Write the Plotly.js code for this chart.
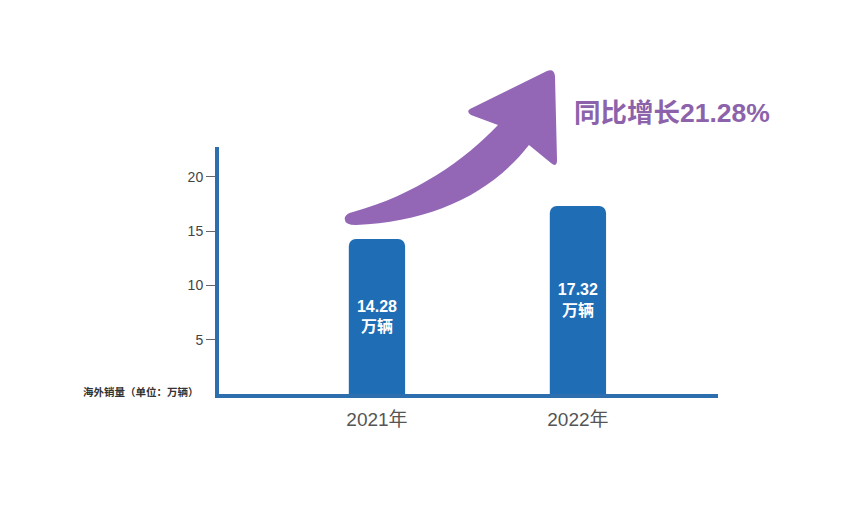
<!DOCTYPE html>
<html>
<head>
<meta charset="utf-8">
<script src="https://cdn.plot.ly/plotly-3.0.1.min.js"></script>
<style>
html,body{margin:0;padding:0;background:#fff;}
#chart{width:852px;height:508px;}
</style>
</head>
<body>
<div id="chart"></div>
<script>
// ---- data ----
var years = ['2021年', '2022年'];
var sales = [14.28, 17.32];          // 海外销量（万辆）
var barLabels = ['14.28<br>万辆', '17.32<br>万辆'];
var yTicks = [5, 10, 15, 20];
var yTickText = ['5', '10', '15', '20'];
var growthText = '同比增长21.28%';
var yTitle = '海外销量（单位：万辆）';

// ---- layout geometry ----
var W = 852, H = 508;
var M = {l: 219, r: 134, t: 147, b: 114};
var PW = W - M.l - M.r, PH = H - M.t - M.b;
function px(x){ return ((x - M.l) / PW).toFixed(4); }
function py(y){ return ((H - M.b - y) / PH).toFixed(4); }
function P(x, y){ return px(x) + ',' + py(y); }

var arrowPath =
  'M' + P(498,125) +
  ' L' + P(471,115) +
  ' Q' + P(465,111) + ' ' + P(472,108) +
  ' L' + P(547,71) +
  ' Q' + P(554,68) + ' ' + P(555,76) +
  ' L' + P(557,160) +
  ' Q' + P(557,168) + ' ' + P(551,163) +
  ' L' + P(529,145) +
  ' C' + P(490,195) + ' ' + P(430,222) + ' ' + P(356,225) +
  ' Q' + P(343,225) + ' ' + P(345,217) +
  ' Q' + P(347,213) + ' ' + P(353,212) +
  ' C' + P(415,195) + ' ' + P(465,160) + ' ' + P(498,125) + ' Z';

var trace = {
  type: 'bar',
  x: years,
  y: sales,
  text: barLabels,
  textposition: 'inside',
  insidetextanchor: 'middle',
  textangle: 0,
  textfont: {family: 'Liberation Sans, Noto Sans CJK SC, sans-serif', size: 16, color: '#ffffff', weight: 'bold'},
  width: 0.28,
  marker: {color: '#1f6db5', cornerradius: 7, line: {width: 0}},
  hoverinfo: 'x+y'
};

var layout = {
  width: W, height: H,
  margin: M,
  paper_bgcolor: '#ffffff',
  plot_bgcolor: '#ffffff',
  showlegend: false,
  font: {family: 'Liberation Sans, Noto Sans CJK SC, sans-serif', color: '#555'},
  xaxis: {
    type: 'category',
    range: [-0.786, 1.697],
    showline: true, linecolor: '#2d6fae', linewidth: 4,
    showgrid: false, zeroline: false,
    ticks: '',
    tickfont: {size: 19, color: '#555555', family: 'Liberation Sans, Noto Sans CJK SC, sans-serif'},
    ticklabelstandoff: 5,
    fixedrange: true
  },
  yaxis: {
    range: [0, 22.76],
    showline: true, linecolor: '#2d6fae', linewidth: 4,
    showgrid: false, zeroline: false,
    tickmode: 'array', tickvals: yTicks, ticktext: yTickText,
    ticks: 'outside', ticklen: 9, tickwidth: 1, tickcolor: '#666666',
    tickfont: {size: 14, color: '#444444', family: 'Liberation Sans, sans-serif'},
    fixedrange: true
  },
  shapes: [{
    type: 'path', xref: 'paper', yref: 'paper',
    path: arrowPath,
    fillcolor: '#9466b6',
    line: {width: 0}
  }],
  annotations: [
    {
      xref: 'paper', yref: 'paper',
      x: px(572), y: py(113), xanchor: 'left', yanchor: 'middle',
      text: '<b>' + growthText + '</b>', showarrow: false,
      font: {size: 26.5, color: '#8c63ab', family: 'Liberation Sans, Noto Sans CJK SC, sans-serif'}
    },
    {
      xref: 'paper', yref: 'paper',
      x: px(201), y: py(391), xanchor: 'right', yanchor: 'middle',
      text: '<b>' + yTitle + '</b>', showarrow: false,
      font: {size: 10.5, color: '#333333', family: 'Noto Sans CJK SC, sans-serif'}
    }
  ]
};

Plotly.newPlot('chart', [trace], layout, {displayModeBar: false, staticPlot: true});
</script>
</body>
</html>
